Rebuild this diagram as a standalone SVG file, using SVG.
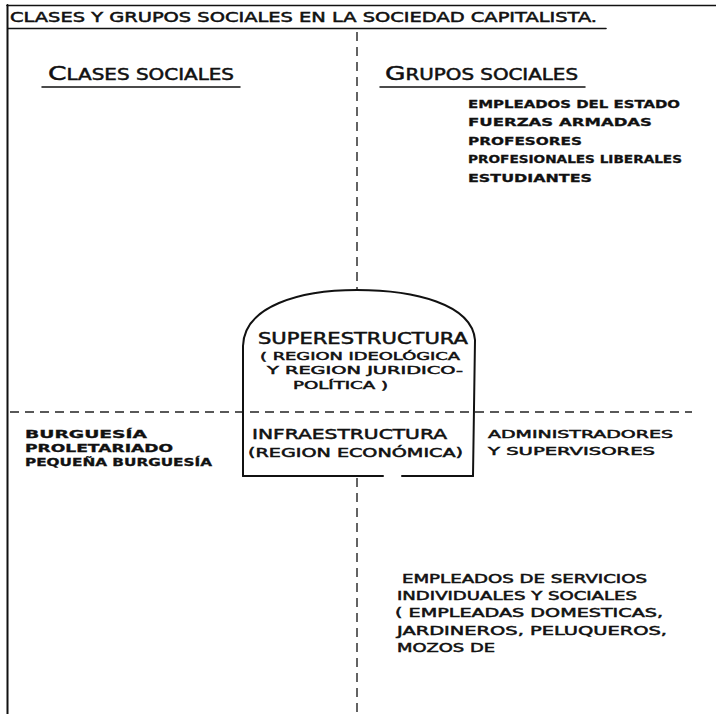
<svg xmlns="http://www.w3.org/2000/svg" width="716" height="714" viewBox="0 0 716 714">
<style>
.t{font-family:"DejaVu Sans","Liberation Sans",sans-serif;fill:#111;stroke:#111;stroke-width:0.5}
.b{font-weight:bold;stroke-width:0.3}
.ln{stroke:#111;fill:none;stroke-linecap:round}
.dash{stroke:#222;fill:none;stroke-width:1.4;stroke-dasharray:9 6}
</style>
<rect width="716" height="714" fill="#fff"/>
<g id="frame">
<line class="ln" x1="7" y1="5.5" x2="716" y2="5.5" stroke-width="1.6"/>
<line class="ln" x1="7.5" y1="5" x2="7.5" y2="714" stroke-width="2"/>
</g>
<g id="title">
<text class="t" x="10" y="22" font-size="14" textLength="587" lengthAdjust="spacingAndGlyphs">CLASES Y GRUPOS SOCIALES EN LA SOCIEDAD CAPITALISTA.</text>
<line class="ln" x1="8" y1="28.5" x2="606" y2="28.5" stroke-width="1.6"/>
</g>
<g id="connectors">
<line class="dash" x1="357" y1="32" x2="357" y2="290"/>
<line class="dash" x1="357" y1="478" x2="357" y2="714"/>
<line class="dash" x1="10" y1="412" x2="243" y2="412"/>
<line class="dash" x1="250" y1="412" x2="692" y2="412"/>
</g>
<g id="clases-header">
<text class="t" x="48" y="80" font-size="15" textLength="186" lengthAdjust="spacingAndGlyphs"><tspan font-size="20">C</tspan>LASES SOCIALES</text>
<line class="ln" x1="42" y1="87" x2="240" y2="87" stroke-width="1.5"/>
</g>
<g id="grupos-header">
<text class="t" x="385" y="80" font-size="15" textLength="193" lengthAdjust="spacingAndGlyphs"><tspan font-size="20">G</tspan>RUPOS SOCIALES</text>
<line class="ln" x1="380" y1="87" x2="585" y2="87" stroke-width="1.5"/>
</g>
<g id="grupos-superestructura">
<text class="t b" x="468" y="108" font-size="11" textLength="212" lengthAdjust="spacingAndGlyphs">EMPLEADOS DEL ESTADO</text>
<text class="t b" x="468" y="126" font-size="11" textLength="184" lengthAdjust="spacingAndGlyphs">FUERZAS ARMADAS</text>
<text class="t b" x="468" y="145" font-size="11" textLength="114" lengthAdjust="spacingAndGlyphs">PROFESORES</text>
<text class="t b" x="468" y="163" font-size="11" textLength="214" lengthAdjust="spacingAndGlyphs">PROFESIONALES LIBERALES</text>
<text class="t b" x="468" y="182" font-size="11" textLength="124" lengthAdjust="spacingAndGlyphs">ESTUDIANTES</text>
</g>
<g id="estructura">
<path class="ln" stroke-width="2" d="M243,476 L243,346 C244,306 300,290 357,290 C414,290 472,304 475,340 L473,476"/>
<line class="ln" x1="243" y1="476" x2="383" y2="476" stroke-width="2"/>
<line class="ln" x1="402" y1="476" x2="473" y2="476" stroke-width="2"/>
<text class="t" x="258" y="344" font-size="15" textLength="210" lengthAdjust="spacingAndGlyphs">SUPERESTRUCTURA</text>
<text class="t" x="260" y="360" font-size="11" textLength="200" lengthAdjust="spacingAndGlyphs">( REGION IDEOLÓGICA</text>
<text class="t" x="267" y="374" font-size="11" textLength="196" lengthAdjust="spacingAndGlyphs">Y REGION JURIDICO-</text>
<text class="t" x="293" y="389" font-size="11" textLength="95" lengthAdjust="spacingAndGlyphs">POLÍTICA )</text>
<text class="t" x="252" y="439" font-size="14" textLength="195" lengthAdjust="spacingAndGlyphs">INFRAESTRUCTURA</text>
<text class="t" x="248" y="457" font-size="12" textLength="215" lengthAdjust="spacingAndGlyphs">(REGION ECONÓMICA)</text>
</g>
<g id="clases-infraestructura">
<text class="t b" x="25" y="438" font-size="10" textLength="122" lengthAdjust="spacingAndGlyphs">BURGUESÍA</text>
<text class="t b" x="25" y="452" font-size="10" textLength="148" lengthAdjust="spacingAndGlyphs">PROLETARIADO</text>
<text class="t b" x="25" y="466" font-size="10" textLength="187" lengthAdjust="spacingAndGlyphs">PEQUEÑA BURGUESÍA</text>
</g>
<g id="grupos-infraestructura">
<text class="t" x="488" y="438" font-size="11" textLength="185" lengthAdjust="spacingAndGlyphs">ADMINISTRADORES</text>
<text class="t" x="488" y="455" font-size="11" textLength="167" lengthAdjust="spacingAndGlyphs">Y SUPERVISORES</text>
</g>
<g id="grupos-servicios">
<text class="t" x="402" y="583" font-size="12" textLength="245" lengthAdjust="spacingAndGlyphs">EMPLEADOS DE SERVICIOS</text>
<text class="t" x="397" y="600" font-size="12" textLength="240" lengthAdjust="spacingAndGlyphs">INDIVIDUALES Y SOCIALES</text>
<text class="t" x="395" y="617" font-size="12" textLength="268" lengthAdjust="spacingAndGlyphs">( EMPLEADAS DOMESTICAS,</text>
<text class="t" x="397" y="635" font-size="12" textLength="270" lengthAdjust="spacingAndGlyphs">JARDINEROS, PELUQUEROS,</text>
<text class="t" x="397" y="652" font-size="12" textLength="98" lengthAdjust="spacingAndGlyphs">MOZOS DE</text>
</g>
</svg>
